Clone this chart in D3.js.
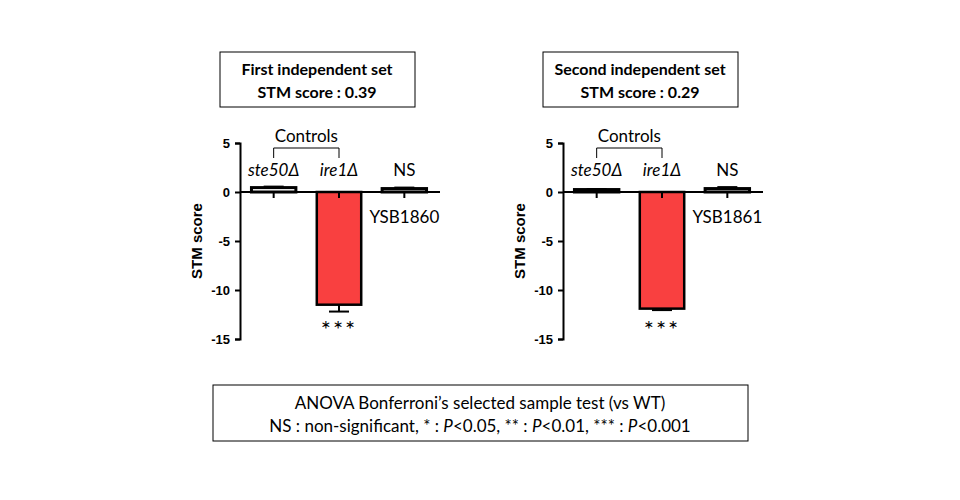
<!DOCTYPE html>
<html>
<head>
<meta charset="utf-8">
<script src="https://d3js.org/d3.v7.min.js"></script>
<style>
  body { margin: 0; background: #fff; }
  text { font-family: Lato, "Open Sans", sans-serif; }
  .axis text { font-family: "Liberation Sans", Arial, sans-serif; font-weight: bold; font-size: 13px; }
</style>
</head>
<body>
<svg width="960" height="500"></svg>
<script>
const categories = ["ste50Δ", "ire1Δ", "NS"]
const italicCat = [true, true, false]
const yTicks = [5, 0, -5, -10, -15]

const panels = [
  { title: "First independent set", score: "STM score : 0.39", strain: "YSB1860",
    values: [0.45, -11.5, 0.35], errors: [0.1, 0.7, 0.1], x0: 240, boxX: 220 },
  { title: "Second independent set", score: "STM score : 0.29", strain: "YSB1861",
    values: [0.25, -11.9, 0.35], errors: [0.05, 0.15, 0.15], x0: 563, boxX: 543 }
]
const fills = ["#fff", "#f94040", "#fff"]

const svg = d3.select("svg")

panels.forEach(p => {
  const g = svg.append("g")
  const y = d3.scaleLinear().domain([-15, 5]).range([339, 143])
  const x = d3.scaleBand().domain(categories).range([p.x0 + 1, p.x0 + 197]).paddingInner(0.32).paddingOuter(0.16)

  // title box
  g.append("rect").attr("x", p.boxX).attr("y", 52).attr("width", 195).attr("height", 55)
    .attr("fill", "#fff").attr("stroke", "#000").attr("stroke-width", 1)
  g.append("text").attr("x", p.boxX + 97).attr("y", 75).attr("text-anchor", "middle")
    .attr("font-size", 16).attr("font-weight", "bold").text(p.title)
  g.append("text").attr("x", p.boxX + 97).attr("y", 98).attr("text-anchor", "middle")
    .attr("font-size", 16).attr("font-weight", "bold").text(p.score)

  // bars
  categories.forEach((c, i) => {
    const v = p.values[i]
    g.append("rect").attr("x", x(c)).attr("width", x.bandwidth())
      .attr("y", y(Math.max(0, v))).attr("height", Math.abs(y(v) - y(0)))
      .attr("fill", fills[i]).attr("stroke", "#000").attr("stroke-width", i === 1 ? 2.5 : 3)
    const cx = x(c) + x.bandwidth() / 2
    const ye = v < 0 ? v - p.errors[i] : v + p.errors[i]
    g.append("line").attr("x1", cx).attr("x2", cx).attr("y1", y(v)).attr("y2", y(ye)).attr("stroke", "#000").attr("stroke-width", 2)
    g.append("line").attr("x1", cx - 10).attr("x2", cx + 10).attr("y1", y(ye)).attr("y2", y(ye)).attr("stroke", "#000").attr("stroke-width", 2)
    g.append("text").attr("x", cx).attr("y", 176).attr("text-anchor", "middle").attr("font-size", 17)
      .attr("font-style", italicCat[i] ? "italic" : "normal").text(c)
  })

  // zero line with category ticks
  g.append("line").attr("x1", p.x0).attr("x2", p.x0 + 200).attr("y1", y(0)).attr("y2", y(0)).attr("stroke", "#000").attr("stroke-width", 2)
  categories.forEach(c => {
    const cx = x(c) + x.bandwidth() / 2
    g.append("line").attr("x1", cx).attr("x2", cx).attr("y1", y(0)).attr("y2", y(0) + 6).attr("stroke", "#000").attr("stroke-width", 2)
  })

  // y axis
  const ax = g.append("g").attr("class", "axis").attr("transform", `translate(${p.x0},0)`)
    .call(d3.axisLeft(y).tickValues(yTicks).tickSize(5).tickFormat(d => String(d)))
  ax.select(".domain").attr("stroke-width", 2)
  ax.selectAll(".tick line").attr("stroke-width", 2)
  ax.selectAll("text").attr("fill", "#000").attr("dx", "-2")

  g.append("text").attr("transform", `translate(${p.x0 - 38},${y(-5)}) rotate(-90)`)
    .attr("text-anchor", "middle").style("font-family", "'Liberation Sans', Arial, sans-serif")
    .attr("font-weight", "bold").attr("font-size", 15).text("STM score")

  // controls bracket
  const c1 = x(categories[0]) + x.bandwidth() / 2, c2 = x(categories[1]) + x.bandwidth() / 2
  g.append("path").attr("d", `M${c1},158V148H${c2}V158`).attr("fill", "none").attr("stroke", "#000")
  g.append("text").attr("x", (c1 + c2) / 2).attr("y", 142).attr("text-anchor", "middle").attr("font-size", 17).text("Controls")

  const cn = x(categories[2]) + x.bandwidth() / 2
  g.append("text").attr("x", cn).attr("y", 223).attr("text-anchor", "middle").attr("font-size", 17).text(p.strain)
  const c1x = x(categories[1]) + x.bandwidth() / 2
  g.append("text").attr("x", c1x).attr("y", 338).attr("text-anchor", "middle").attr("font-size", 24)
    .attr("letter-spacing", 2).text("***")
})

// bottom box
svg.append("rect").attr("x", 213).attr("y", 385).attr("width", 535).attr("height", 56)
  .attr("fill", "#fff").attr("stroke", "#000")
svg.append("text").attr("x", 480).attr("y", 409).attr("text-anchor", "middle").attr("font-size", 17)
  .text("ANOVA Bonferroni’s selected sample test (vs WT)")
const t2 = svg.append("text").attr("x", 480).attr("y", 432).attr("text-anchor", "middle").attr("font-size", 17)
t2.append("tspan").text("NS : non-significant, * : ")
t2.append("tspan").attr("font-style", "italic").text("P")
t2.append("tspan").text("<0.05, ** : ")
t2.append("tspan").attr("font-style", "italic").text("P")
t2.append("tspan").text("<0.01, *** : ")
t2.append("tspan").attr("font-style", "italic").text("P")
t2.append("tspan").text("<0.001")
</script>
</body>
</html>
